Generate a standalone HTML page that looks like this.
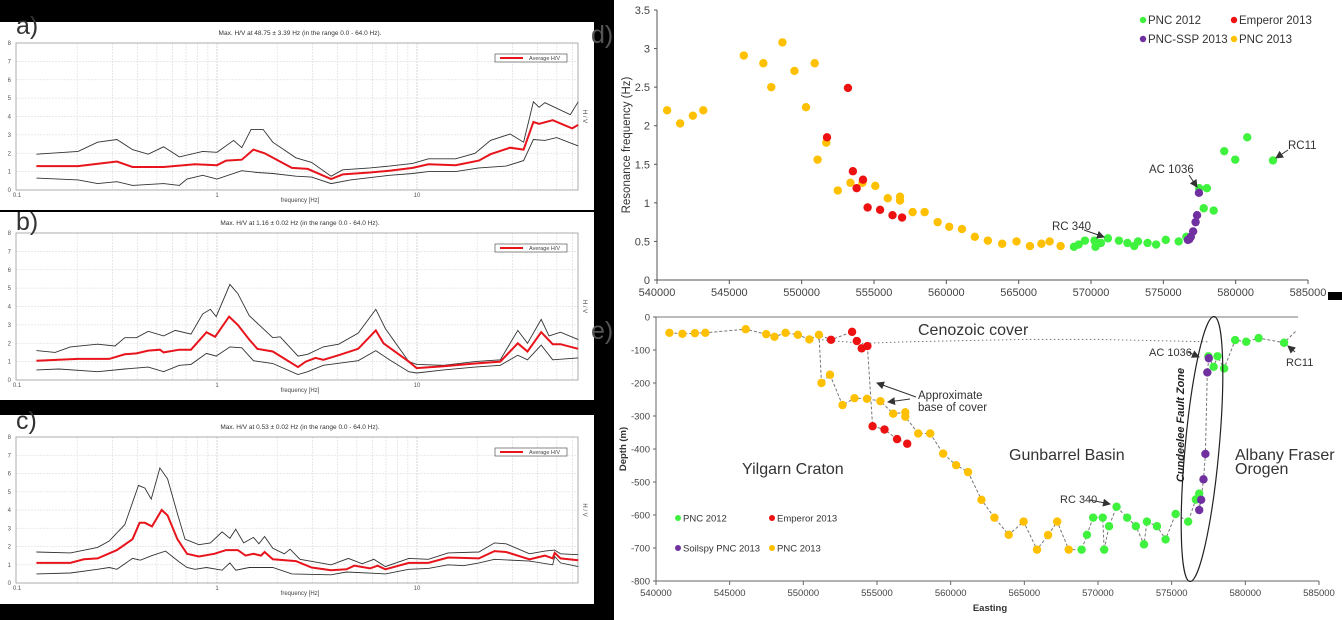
<!DOCTYPE html>
<html><head><meta charset="utf-8"><style>
html,body{margin:0;padding:0;background:#000;}
svg{display:block;font-family:"Liberation Sans",sans-serif;}
</style></head><body>
<svg id="fig" width="1342" height="620" viewBox="0 0 1342 620" xmlns="http://www.w3.org/2000/svg">
<defs><marker id="ah" markerWidth="8" markerHeight="8" refX="7" refY="4" orient="auto" markerUnits="userSpaceOnUse"><path d="M0,0 L8,4 L0,8 z" fill="#333"/></marker></defs>
<rect x="0" y="0" width="1342" height="620" fill="#000"/>
<rect x="614" y="0" width="728" height="620" fill="#fff"/>
<rect x="1328" y="292" width="14" height="8" fill="#000"/>
<rect x="0" y="22" width="594" height="188" fill="#fff"/>
<rect x="0" y="212" width="594" height="188" fill="#fff"/>
<rect x="0" y="415" width="594" height="189" fill="#fff"/>
<g id="hvlayer"></g>
<g id="dlayer"></g>
<g id="elayer"></g>
<text x="16" y="34" font-size="25" fill="#333">a)</text>
<text x="16" y="230" font-size="25" fill="#333">b)</text>
<text x="16" y="429" font-size="25" fill="#333">c)</text>
<text x="591" y="43" font-size="25" fill="#555">d)</text>
<text x="591" y="339" font-size="25" fill="#555">e)</text>
</svg>
<script>
// ---------- HVSR data ----------
const aMeanF=[0.125,0.202,0.316,0.378,0.541,0.775,1,1.11,1.33,1.52,1.73,2.37,2.84,3.72,4.25,5.82,7.28,9.52,11.4,15.6,20.4,23.3,29.2,34.1,38.2,40.8,47.7,59.7,64];
const aMean=[1.3,1.3,1.55,1.25,1.25,1.4,1.35,1.6,1.65,2.2,2.0,1.2,1.15,0.6,0.85,0.95,1.05,1.2,1.4,1.35,1.6,1.95,2.3,2.2,3.7,3.6,3.8,3.35,3.55];
const aUpF=[0.125,0.202,0.253,0.316,0.378,0.453,0.541,0.648,0.848,1,1.21,1.33,1.48,1.70,1.90,2.48,2.97,3.72,4.25,5.82,7.28,9.52,11.4,15.6,19.5,23.3,29.2,34.1,38.2,40.8,43.6,58.4,64];
const aUp=[1.95,2.1,2.6,2.75,2.2,1.95,2.35,1.8,2.1,2.05,2.7,2.3,3.3,3.3,2.6,1.75,1.5,0.75,1.1,1.2,1.3,1.45,1.7,1.7,2.0,2.7,3.05,2.6,4.8,4.5,4.75,4.1,4.8];
const aLoF=[0.125,0.202,0.253,0.316,0.378,0.541,0.648,0.708,0.848,1,1.33,1.59,1.90,2.48,2.97,3.72,4.65,7.28,9.52,11.4,15.6,20.4,27.9,34.1,38.2,43.6,49.9,64];
const aLo=[0.65,0.55,0.35,0.45,0.25,0.35,0.25,0.6,0.8,0.6,1.05,0.95,0.9,0.75,0.7,0.35,0.55,0.8,0.9,1.0,1.0,1.2,1.3,1.6,2.75,2.7,2.85,2.4];

const bMeanF=[0.125,0.202,0.289,0.346,0.396,0.453,0.518,0.541,0.648,0.741,0.886,0.978,1.15,1.27,1.45,1.59,1.90,2.54,2.78,3.11,3.40,4.06,5.08,6.22,6.80,9.10,9.95,13.6,19.5,26.1,31.9,35.7,41.8,47.7,52.2,64];
const bMean=[1.05,1.15,1.15,1.4,1.45,1.6,1.65,1.5,1.65,1.65,2.6,2.35,3.45,3.0,2.2,1.7,1.55,0.7,1.0,1.2,1.1,1.35,1.7,2.7,2.0,1.0,0.65,0.75,0.9,1.0,2.0,1.55,2.6,1.95,1.95,1.7];
const bUpF=[0.125,0.155,0.185,0.253,0.309,0.346,0.396,0.453,0.541,0.619,0.741,0.848,0.927,0.991,1.16,1.27,1.45,1.90,2.07,2.54,2.84,3.40,4.06,5.08,6.22,6.95,9.10,9.95,13.6,19.5,26.1,31.9,35.7,41.8,45.7,52.2,64];
const bUp=[1.6,1.5,1.8,1.95,1.85,2.3,2.3,2.65,2.4,2.7,2.5,3.6,3.85,3.45,5.2,4.7,3.5,2.3,2.35,1.3,1.4,1.8,1.95,2.55,3.85,2.8,1.0,0.85,0.8,1.0,1.1,2.7,2.0,3.3,2.4,2.6,2.2];
const bLoF=[0.125,0.162,0.253,0.346,0.453,0.541,0.648,0.741,0.886,0.991,1.16,1.33,1.52,1.90,2.54,2.84,3.40,5.08,6.22,7.28,9.10,9.95,13.6,19.5,26.1,31.9,35.7,41.8,47.7,64];
const bLo=[0.55,0.6,0.45,0.6,0.7,0.45,0.8,0.85,1.45,1.3,1.8,1.75,1.05,0.9,0.3,0.45,0.8,1.05,1.6,1.1,0.45,0.38,0.55,0.7,0.8,1.35,1.1,1.9,1.1,1.2];

const cMeanF=[0.125,0.185,0.216,0.253,0.316,0.378,0.410,0.436,0.473,0.529,0.566,0.634,0.708,0.811,0.969,1.11,1.27,1.39,1.52,1.66,1.73,1.90,2.48,2.97,3.72,4.44,4.86,5.82,6.36,6.95,9.10,11.4,14.3,20.4,24.4,27.9,36.5,43.6,47.7,48.8,52.2,64];
const cMean=[1.1,1.1,1.3,1.35,1.8,2.4,3.3,3.3,3.1,4.0,3.7,2.4,1.6,1.45,1.6,1.8,1.8,1.5,1.6,1.5,1.7,1.3,1.2,0.85,0.7,0.75,0.95,0.8,0.95,0.75,1.1,1.1,1.4,1.35,1.75,1.7,1.3,1.5,1.35,1.65,1.35,1.25];
const cUpF=[0.125,0.185,0.253,0.289,0.346,0.405,0.436,0.469,0.518,0.566,0.634,0.692,0.811,0.927,1.06,1.16,1.24,1.36,1.52,1.62,1.73,1.90,2.17,2.32,2.60,3.72,4.54,5.32,6.08,6.95,9.10,11.4,14.3,20.4,24.4,27.9,36.5,43.6,48.8,52.2,64];
const cUp=[1.7,1.65,1.95,2.3,3.2,5.35,5.2,4.6,6.3,5.7,3.8,2.4,2.1,2.2,2.8,2.45,2.95,2.2,2.5,2.15,2.55,1.9,1.6,1.85,1.3,1.0,1.35,1.05,1.3,0.9,1.35,1.3,1.65,1.7,2.2,2.15,1.6,1.75,1.8,1.6,1.55];
const cLoF=[0.125,0.185,0.253,0.289,0.316,0.378,0.414,0.473,0.553,0.648,0.708,0.775,0.886,1.06,1.16,1.24,1.45,1.90,2.37,3.72,4.44,6.95,9.10,11.4,14.3,17.1,20.4,24.4,36.5,47.7,48.8,52.2,64];
const cLo=[0.5,0.55,0.75,0.85,0.75,1.35,1.25,1.5,1.75,1.15,0.85,0.75,0.85,0.7,1.1,0.7,0.85,0.85,0.5,0.45,0.6,0.5,0.75,0.8,1.0,0.95,1.1,1.3,1.2,1.0,1.45,1.1,0.9];

// ---------- Panel d data ----------
const dPNC2013E=[540700,541600,542480,543200,546000,547350,547900,548670,549500,550300,550900,551700,551100,552500,553370,554200,555090,555950,556800,556800,557670,558500,559400,560200,561080,561970,562870,563860,564850,565780,566570,567140,567900];
const dPNC2013F=[2.20,2.03,2.13,2.20,2.91,2.81,2.50,3.08,2.71,2.24,2.81,1.78,1.56,1.16,1.26,1.26,1.22,1.06,1.08,1.03,0.88,0.88,0.75,0.69,0.66,0.56,0.51,0.47,0.50,0.44,0.47,0.50,0.44];
const dEmpE=[551750,553200,553540,554240,553800,554560,555420,556280,556940];
const dEmpF=[1.85,2.49,1.41,1.30,1.19,0.94,0.91,0.84,0.81];
const dGreenE=[568820,569150,569580,570240,570310,570680,571170,571930,572520,572990,573250,573910,574500,575170,576060,576590,577480,578010,577790,578480,579210,579970,580800,582580];
const dGreenF=[0.43,0.46,0.51,0.51,0.43,0.48,0.54,0.51,0.48,0.44,0.50,0.48,0.46,0.52,0.50,0.56,1.19,1.19,0.93,0.90,1.67,1.56,1.85,1.55];
const dPurpleE=[577460,577330,577230,577060,576900,576800,576700];
const dPurpleF=[1.13,0.84,0.75,0.63,0.56,0.53,0.52];
const dYTicks=[0,0.5,1,1.5,2,2.5,3,3.5];
const xTicks=[540000,545000,550000,555000,560000,565000,570000,575000,580000,585000];

// ---------- Panel e data ----------
const eOrTopE=[540910,541790,542640,543350,546090,547480,548040,548790,549630,550410,551060];
const eOrTopD=[-48,-51,-49,-48,-37,-52,-60,-48,-54,-68,-54];
const eRedTopE=[551880,553310,553630,553960,554350];
const eRedTopD=[-69,-45,-73,-95,-88];
const eRedLowE=[554700,555510,556360,557050];
const eRedLowD=[-331,-341,-370,-384];
const eOrLowE=[551230,551810,552660,553470,554320,555230,556100,556920,556920,557800,558610,559490,560370,561180,562090,562970,563940,564950,565860,566610,567230,568010];
const eOrLowD=[-200,-175,-267,-246,-248,-255,-293,-289,-302,-353,-353,-414,-449,-470,-554,-608,-660,-620,-705,-661,-620,-705];
const eGrLowE=[568890,569250,569670,570320,570420,570750,571260,571980,572570,573120,573320,574000,574590,575270,576120,576640,576870];
const eGrLowD=[-705,-660,-608,-608,-705,-634,-575,-608,-634,-689,-620,-634,-674,-597,-620,-553,-535];
const ePurE=[576870,577000,577160,577290,577420,577520];
const ePurD=[-585,-554,-492,-415,-168,-125];
const eGrTopE=[577490,577850,578110,578560,579310,580060,580900,582630];
const eGrTopD=[-119,-151,-119,-156,-70,-75,-64,-78];
const eCoverE=[551000,554000,557000,565000,570000,577500];
const eCoverD=[-68,-80,-75,-68,-68,-75];
const eYTicks=[0,-100,-200,-300,-400,-500,-600,-700,-800];

const NS='http://www.w3.org/2000/svg';
function mk(tag,attrs,parent,txt){const e=document.createElementNS(NS,tag);for(const k in attrs)e.setAttribute(k,attrs[k]);if(txt!==undefined)e.textContent=txt;parent.appendChild(e);return e;}

// ---------- HV panels ----------
const hvL=document.getElementById('hvlayer');
function hvX(f){return 217+200*Math.log10(f);}
function drawHV(name,top,bot,title,mf,mv,uf,uv,lf,lv){
  const yv=v=>bot-(v/8)*(bot-top);
  const g=mk('g',{},hvL);
  
  
  const ti=mk('text',{x:300,y:top-8,'font-size':6.5,'text-anchor':'middle',fill:'#333'},g,title);
  
  
  [0.1,1,10].forEach(d=>{for(let m=1;m<=9;m++){const f=d*m;if(f>64||(d===0.1&&m===1))continue;
    const gl=mk('line',{x1:hvX(f),x2:hvX(f),y1:top,y2:bot,stroke:m===1?'#ccc':'#e2e2e2','stroke-width':0.8,'stroke-dasharray':'2,1'},g);
    
    }});
  for(let v=1;v<8;v++){const gl=mk('line',{x1:16,x2:578,y1:yv(v),y2:yv(v),stroke:'#e2e2e2','stroke-width':0.8,'stroke-dasharray':'2,1'},g);
    
    }
  for(let v=0;v<=8;v++){const t=mk('text',{x:11,y:yv(v)+2,'font-size':6,'text-anchor':'end',fill:'#555'},g,String(v));
    
    }
  [[0.1,'0.1'],[1,'1'],[10,'10']].forEach(p=>{const t=mk('text',{x:hvX(p[0]),y:bot+7,'font-size':6,'text-anchor':'middle',fill:'#555'},g,p[1]);
    
    });
  const xt=mk('text',{x:300,y:bot+12,'font-size':6,'text-anchor':'middle',fill:'#444'},g,'frequency [Hz]');
  
  
  const yt=mk('text',{x:583,y:(top+bot)/2,'font-size':6,'text-anchor':'middle',fill:'#444',transform:`rotate(90 583 ${(top+bot)/2})`},g,'H / V');
  
  
  const fr=mk('rect',{x:16,y:top,width:562,height:bot-top,fill:'none',stroke:'#999','stroke-width':0.8},g);
  
  
  const pts=(F,V)=>F.map((f,i)=>hvX(f).toFixed(1)+','+yv(V[i]).toFixed(1)).join(' ');
  const up=mk('polyline',{points:pts(uf,uv),fill:'none',stroke:'#333','stroke-width':0.9},g);
  
  
  const lo=mk('polyline',{points:pts(lf,lv),fill:'none',stroke:'#333','stroke-width':0.9},g);
  
  
  const me=mk('polyline',{points:pts(mf,mv),fill:'none',stroke:'#e8141c','stroke-width':2},g);
  
  
  const lg=mk('rect',{x:495,y:top+11,width:72,height:8,fill:'#fff',stroke:'#555','stroke-width':0.7},g);
  
  
  const ll=mk('line',{x1:500,x2:523,y1:top+15,y2:top+15,stroke:'#e8141c','stroke-width':2},g);
  
  
  const lt=mk('text',{x:529,y:top+17,'font-size':5.5,fill:'#444'},g,'Average H/V');
  
  
}
drawHV('hv-chart-a',43,190,'Max. H/V at 48.75 ± 3.39 Hz (in the range 0.0 - 64.0 Hz).',aMeanF,aMean,aUpF,aUp,aLoF,aLo);
drawHV('hv-chart-b',233,380,'Max. H/V at 1.16 ± 0.02 Hz (in the range 0.0 - 64.0 Hz).',bMeanF,bMean,bUpF,bUp,bLoF,bLo);
drawHV('hv-chart-c',437,583,'Max. H/V at 0.53 ± 0.02 Hz (in the range 0.0 - 64.0 Hz).',cMeanF,cMean,cUpF,cUp,cLoF,cLo);

const GREEN='#3ef23e',RED='#ee1111',PURPLE='#7030a0',ORANGE='#ffc000';

// ---------- Panel d ----------
const dL=document.getElementById('dlayer');
const dX=e=>657+(e-540000)/45000*651;
const dY=f=>280-f/3.5*270;
(function(){
  const ax=mk('line',{x1:657,x2:1308,y1:280,y2:280,stroke:'#555','stroke-width':1},dL);
  
  
  const ay=mk('line',{x1:657,x2:657,y1:10,y2:280,stroke:'#555','stroke-width':1},dL);
  
  
  dYTicks.forEach(v=>{const t=mk('text',{x:650,y:dY(v)+4,'font-size':11,'text-anchor':'end',fill:'#444'},dL,String(v));
    
    
    mk('line',{x1:654,x2:657,y1:dY(v),y2:dY(v),stroke:'#555'},dL);});
  xTicks.forEach(v=>{const t=mk('text',{x:dX(v),y:296,'font-size':11,'text-anchor':'middle',fill:'#444'},dL,String(v));
    
    
    mk('line',{x1:dX(v),x2:dX(v),y1:280,y2:284,stroke:'#555'},dL);});
  const yt=mk('text',{x:630,y:145,'font-size':11.5,'text-anchor':'middle',fill:'#333',transform:'rotate(-90 630 145)'},dL,'Resonance frequency (Hz)');
  
  
  const pts=(E,F,c,n)=>E.forEach((e,i)=>{const p=mk('circle',{cx:dX(e),cy:dY(F[i]),r:4.2,fill:c},dL);
    
    });
  pts(dPNC2013E,dPNC2013F,ORANGE,'point-pnc-2013');
  pts(dEmpE,dEmpF,RED,'point-emperor-2013');
  pts(dGreenE,dGreenF,GREEN,'point-pnc-2012');
  pts(dPurpleE,dPurpleF,PURPLE,'point-pnc-ssp-2013');
  [[1143,20,GREEN,'PNC 2012'],[1234,20,RED,'Emperor 2013'],[1143,39,PURPLE,'PNC-SSP 2013'],[1234,39,ORANGE,'PNC 2013']].forEach(l=>{
    const c=mk('circle',{cx:l[0],cy:l[1],r:3.2,fill:l[2]},dL);
    
    
    const t=mk('text',{x:l[0]+5,y:l[1]+4,'font-size':11.5,fill:'#333'},dL,l[3]);
    
    });
  [[1052,230,'RC 340',1084,230,1104,237],[1149,173,'AC 1036',1189,175,1197,187],[1288,149,'RC11',1288,150,1276,158]].forEach(a=>{
    const t=mk('text',{x:a[0],y:a[1],'font-size':11.5,fill:'#333'},dL,a[2]);
    
    
    const ar=mk('line',{x1:a[3],y1:a[4],x2:a[5],y2:a[6],stroke:'#333','stroke-width':1,'marker-end':'url(#ah)'},dL);
    
    });
})();

// ---------- Panel e ----------
const eL=document.getElementById('elayer');
const eX=e=>656+(e-540000)/45000*663;
const eY=d=>317+(d/-800)*264;
(function(){
  const top=mk('line',{x1:656,x2:1298,y1:eY(0),y2:eY(0),stroke:'#bbb','stroke-width':2},eL);
  
  
  const ax=mk('line',{x1:656,x2:1319,y1:581,y2:581,stroke:'#666','stroke-width':1},eL);
  
  
  const ay=mk('line',{x1:656,x2:656,y1:317,y2:581,stroke:'#666','stroke-width':1},eL);
  
  
  eYTicks.forEach(v=>{const t=mk('text',{x:650,y:eY(v)+3.5,'font-size':9.5,'text-anchor':'end',fill:'#444'},eL,String(v));
    
    
    mk('line',{x1:653,x2:656,y1:eY(v),y2:eY(v),stroke:'#666'},eL);});
  xTicks.forEach(v=>{const t=mk('text',{x:eX(v),y:596,'font-size':9.5,'text-anchor':'middle',fill:'#444'},eL,String(v));
    
    
    mk('line',{x1:eX(v),x2:eX(v),y1:581,y2:585,stroke:'#666'},eL);});
  const xt=mk('text',{x:990,y:611,'font-size':9.5,'font-weight':'bold','text-anchor':'middle',fill:'#333'},eL,'Easting');
  
  
  const yt=mk('text',{x:626,y:449,'font-size':9.5,'font-weight':'bold','text-anchor':'middle',fill:'#333',transform:'rotate(-90 626 449)'},eL,'Depth (m)');
  
  
  const line=(E,D,n,dash)=>{const p=mk('polyline',{points:E.map((e,i)=>eX(e).toFixed(1)+','+eY(D[i]).toFixed(1)).join(' '),fill:'none',stroke:'#777','stroke-width':1,'stroke-dasharray':dash},eL);
    
    };
  line(eCoverE,eCoverD,'base-of-cover-line','1.5,2.5');
  line(eOrTopE.concat(eRedTopE,eRedLowE),eOrTopD.concat(eRedTopD,eRedLowD),'cover-profile-line','3,2');
  const lastE=eOrTopE[eOrTopE.length-1],lastD=eOrTopD[eOrTopD.length-1];
  line([lastE].concat(eOrLowE,eGrLowE,ePurE,eGrTopE,[583500]),[lastD].concat(eOrLowD,eGrLowD,ePurD,eGrTopD,[-40]),'basement-profile-line','3,2');
  const pts=(E,D,c,n)=>E.forEach((e,i)=>{const p=mk('circle',{cx:eX(e),cy:eY(D[i]),r:4.2,fill:c},eL);
    
    });
  pts(eOrTopE,eOrTopD,ORANGE,'e-point-pnc-2013');
  pts(eOrLowE,eOrLowD,ORANGE,'e-point-pnc-2013');
  pts(eRedTopE,eRedTopD,RED,'e-point-emperor-2013');
  pts(eRedLowE,eRedLowD,RED,'e-point-emperor-2013');
  pts(eGrLowE,eGrLowD,GREEN,'e-point-pnc-2012');
  pts(eGrTopE,eGrTopD,GREEN,'e-point-pnc-2012');
  pts(ePurE,ePurD,PURPLE,'e-point-soilspy-2013');
  const el=mk('ellipse',{cx:1202,cy:449,rx:17,ry:133,fill:'none',stroke:'#222','stroke-width':1.2,transform:'rotate(5.2 1202 449)'},eL);
  
  
  const fz=mk('text',{x:1184,y:425,'font-size':11,'font-weight':'bold','font-style':'italic','text-anchor':'middle',fill:'#222',transform:'rotate(-90 1184 425)'},eL,'Cundeelee Fault Zone');
  
  
  [[918,335,16,'Cenozoic cover'],[1009,460,16,'Gunbarrel Basin'],[742,474,16,'Yilgarn Craton'],[1235,460,16,'Albany Fraser'],[1235,474,16,'Orogen'],[918,399,11.5,'Approximate'],[918,411,11.5,'base of cover'],[1149,356,11,'AC 1036'],[1286,366,11,'RC11'],[1060,503,11,'RC 340']].forEach(l=>{
    const t=mk('text',{x:l[0],y:l[1],'font-size':l[2],fill:'#333'},eL,l[3]);
    
    });
  [[916,397,877,383],[910,399,888,402],[1188,352,1199,357],[1295,352,1288,346],[1090,500,1110,504]].forEach(a=>{
    const ar=mk('line',{x1:a[0],y1:a[1],x2:a[2],y2:a[3],stroke:'#333','stroke-width':1,'marker-end':'url(#ah)'},eL);
    
    });
  [[678,518,GREEN,'PNC 2012'],[772,518,RED,'Emperor 2013'],[678,548,PURPLE,'Soilspy PNC 2013'],[772,548,ORANGE,'PNC 2013']].forEach(l=>{
    const c=mk('circle',{cx:l[0],cy:l[1],r:3,fill:l[2]},eL);
    
    
    const t=mk('text',{x:l[0]+5,y:l[1]+3.5,'font-size':9.5,fill:'#333'},eL,l[3]);
    
    });
})();
</script>
</body></html>
